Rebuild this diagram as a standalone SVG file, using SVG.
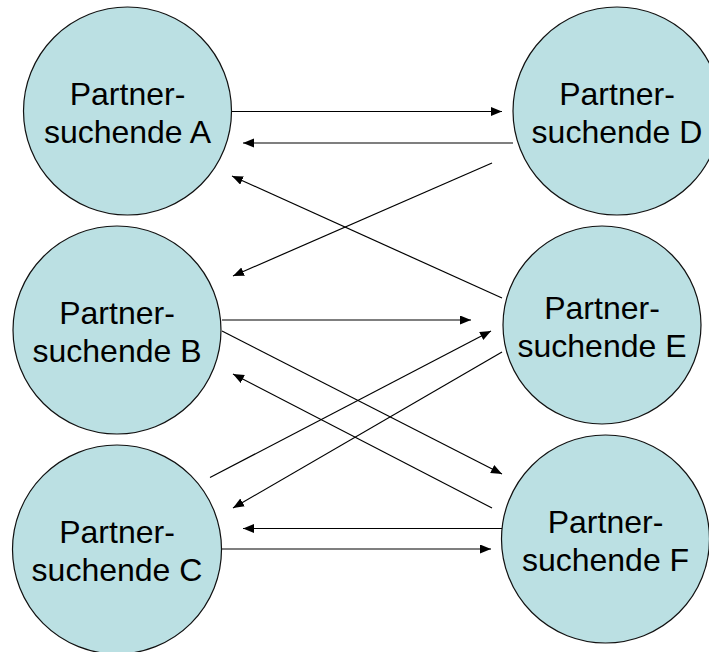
<svg xmlns="http://www.w3.org/2000/svg" width="709" height="652" viewBox="0 0 709 652">
<defs>
<style>
.node circle{fill:#bbe0e3;stroke:#111;stroke-width:1.2}
.node text{font-family:"Liberation Sans",Arial,sans-serif;font-size:32px;fill:#000;text-anchor:middle}
#connectors line{stroke:#000;stroke-width:1.2;marker-end:url(#ah)}
</style>
<marker id="ah" markerUnits="userSpaceOnUse" markerWidth="12" markerHeight="10" refX="11" refY="4.5" orient="auto">
<path d="M0,0 L11,4.5 L0,9 z" fill="#000"/>
</marker>
</defs>
<rect width="709" height="652" fill="#fff"/>
<g id="nodeA" class="node"><circle cx="127.5" cy="111" r="104"/><text x="127.5" y="105">Partner-</text><text x="127.5" y="143">suchende A</text></g>
<g id="nodeD" class="node"><circle cx="617" cy="111" r="104"/><text x="617" y="105">Partner-</text><text x="617" y="143">suchende D</text></g>
<g id="nodeB" class="node"><circle cx="117" cy="330" r="104"/><text x="117" y="324">Partner-</text><text x="117" y="362">suchende B</text></g>
<g id="nodeE" class="node"><circle cx="602" cy="325" r="99"/><text x="602" y="319">Partner-</text><text x="602" y="357">suchende E</text></g>
<g id="nodeC" class="node"><circle cx="117" cy="549.5" r="104.5"/><text x="117" y="543">Partner-</text><text x="117" y="581">suchende C</text></g>
<g id="nodeF" class="node"><circle cx="605.5" cy="539" r="104"/><text x="605.5" y="533">Partner-</text><text x="605.5" y="571">suchende F</text></g>
<g id="connectors">
<line x1="232" y1="111.5" x2="502" y2="111.5"/>
<line x1="513" y1="143" x2="243" y2="143"/>
<line x1="502" y1="298" x2="232" y2="176"/>
<line x1="492" y1="163" x2="233" y2="276"/>
<line x1="222" y1="320" x2="471" y2="320"/>
<line x1="222" y1="331" x2="502" y2="474"/>
<line x1="492" y1="508" x2="233" y2="374"/>
<line x1="210" y1="477.5" x2="491" y2="331"/>
<line x1="502" y1="352" x2="233" y2="508"/>
<line x1="502" y1="528.5" x2="243" y2="528.5"/>
<line x1="222" y1="549" x2="491" y2="549"/>
</g>
</svg>
